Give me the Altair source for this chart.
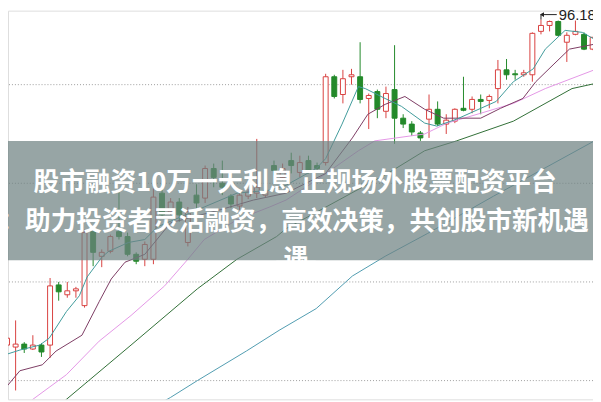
import altair as alt
import pandas as pd

# ---------------- data ----------------
days = list(range(69))
open_ = [63.18, 62.98, 63.28, 62.78, 63.18, 63.18, 69.28, 68.28, 68.68, 67.18,
         74.68, 72.18, 72.68, 74.68, 74.18, 72.38, 71.88, 71.88, 78.58, 76.68,
         77.68, 73.58, 78.38, 78.08, 81.08, 79.58, 78.28, 77.28, 78.28, 78.58,
         78.38, 81.38, 80.18, 81.88, 80.68, 81.88, 81.38, 81.68, 90.38, 88.58,
         90.38, 90.38, 88.18, 88.88, 86.88, 89.08, 86.18, 85.58, 84.68, 86.08,
         87.08, 85.58, 85.88, 87.18, 87.08, 88.08, 87.98, 89.18, 91.08, 90.68,
         90.58, 90.58, 94.98, 95.58, 95.98, 93.88, 94.68, 94.68, 93.18]
high = [64.18, 65.68, 63.48, 64.18, 63.38, 69.98, 69.58, 69.58, 69.08, 74.88,
        75.18, 72.88, 74.38, 78.68, 74.58, 72.58, 73.68, 79.08, 79.58, 78.08,
        78.08, 77.18, 79.48, 81.38, 81.58, 81.88, 78.48, 78.68, 78.98, 84.08,
        79.28, 81.88, 81.58, 82.68, 82.38, 82.38, 81.68, 90.68, 90.58, 91.08,
        91.18, 93.88, 88.68, 89.08, 89.38, 93.58, 86.58, 85.88, 84.88, 88.58,
        87.88, 86.58, 87.18, 90.38, 88.38, 88.58, 88.58, 92.08, 92.18, 91.08,
        91.08, 94.88, 96.18, 96.08, 96.08, 94.88, 96.08, 94.88, 94.38]
low = [62.68, 58.58, 62.38, 62.68, 61.98, 61.88, 67.68, 67.98, 67.98, 66.98,
       71.18, 71.08, 72.48, 73.88, 72.18, 71.38, 71.18, 71.38, 76.08, 76.38,
       75.68, 73.18, 77.08, 77.58, 79.18, 78.38, 77.08, 76.88, 77.98, 78.08,
       78.18, 80.38, 79.88, 80.58, 80.18, 80.58, 80.68, 81.38, 88.18, 87.68,
       89.58, 87.68, 85.08, 86.18, 86.18, 83.58, 85.18, 84.38, 83.88, 84.18,
       85.38, 84.58, 85.68, 86.88, 86.68, 86.58, 87.18, 87.68, 90.08, 90.08,
       90.38, 89.88, 94.68, 94.98, 94.48, 91.88, 94.58, 93.08, 93.08]
close = [63.88, 63.28, 62.78, 63.18, 62.48, 69.18, 68.58, 68.68, 68.88, 74.58,
         72.58, 72.58, 74.18, 74.18, 72.38, 71.68, 73.38, 78.18, 76.38, 77.68,
         76.38, 76.68, 77.58, 81.08, 80.18, 79.18, 77.48, 78.38, 78.68, 79.18,
         78.78, 80.88, 81.08, 81.38, 81.68, 80.88, 81.08, 90.38, 88.38, 90.18,
         90.58, 88.08, 88.48, 87.08, 88.68, 86.18, 85.58, 84.78, 84.18, 87.08,
         85.58, 85.98, 87.08, 86.98, 88.08, 87.88, 88.38, 91.08, 90.58, 90.58,
         90.78, 94.78, 95.58, 95.98, 94.58, 94.58, 94.98, 93.18, 94.38]
rising = [True, True, False, True, False, True, False, True, True, True,
          False, True, True, False, False, False, True, True, False, True,
          False, True, False, True, False, False, False, True, True, True,
          True, False, True, False, True, False, False, True, False, True,
          True, False, True, False, True, False, False, False, False, True,
          False, True, True, False, True, False, True, True, False, False,
          True, True, True, True, False, True, True, False, True]

ma5_day = [-1, 1.5, 3.8, 4.9, 6.9, 8.4, 9.3, 11, 11.8, 14.1, 16, 17.5, 22.9, 26.7,
           30.5, 32.4, 35.9, 37, 38.9, 40.8, 41.6, 43.9, 45.8, 48.5, 49.9, 52.2,
           56.8, 58.8, 61.1, 62.5, 64.8, 66.8, 68.2]
ma5_val = [61.98, 62.68, 63.18, 63.88, 66.58, 68.18, 70.08, 72.08, 72.68, 73.58,
           73.88, 75.18, 77.18, 78.58, 78.88, 79.38, 81.08, 82.08, 85.58, 89.38,
           89.18, 88.18, 87.38, 85.68, 85.38, 86.08, 87.88, 89.88, 91.18, 93.18,
           95.08, 94.88, 94.18]

ma10_day = [-0.8, 1.5, 4.1, 5.7, 8.7, 10.7, 12.1, 13.7, 16, 19, 24.7, 28.6, 32.4,
            37, 40.1, 41.9, 43.9, 46.2, 48.5, 50.7, 55, 57.3, 59.9, 61.4, 63.4,
            65.3, 68.2]
ma10_val = [58.18, 60.58, 61.18, 62.58, 64.18, 67.58, 69.88, 71.58, 72.38, 75.58,
            76.88, 77.88, 78.58, 80.58, 84.18, 86.58, 87.58, 88.38, 87.08, 86.18,
            86.18, 87.18, 88.18, 89.88, 91.58, 93.18, 93.68]

ma20_day = [-1, 3, 6.9, 10.7, 14.4, 18.3, 21, 22.9, 26.7, 30.5, 32.4, 35.9, 40.8,
            42.7, 48.5, 51.1, 55, 58.8, 62.5, 68.2]
ma20_val = [54.5, 57.68, 60.18, 63.58, 66.18, 69.18, 71.88, 73.88, 75.88, 77.18,
            77.88, 79.88, 82.88, 83.88, 84.58, 85.68, 86.68, 87.68, 89.18, 91.08]

ma60_day = [5, 6.9, 14.4, 22.1, 26.7, 31.3, 32.4, 44.2, 48.5, 52.2, 58.8, 65.6, 68.2]
ma60_val = [56.08, 57.68, 63.18, 68.88, 71.88, 74.18, 74.98, 80.58, 82.88, 83.88,
            85.88, 89.18, 89.68]

ma120_day = [16, 19, 22.1, 27.8, 31.6, 35.9, 40.1, 43.9, 48.8, 56.5, 68.2]
ma120_val = [56.38, 57.88, 59.58, 62.58, 64.68, 66.88, 70.18, 72.18, 74.48, 78.28,
             83.88]

grid_levels = [89.58, 79.58, 69.58, 59.58]
title_lines = ["股市融资10万一天利息 正规场外股票配资平台",
               "：助力投资者灵活融资，高效决策，共创股市新机遇",
               "遇"]
peak_day = [62]
peak_price = [96.18]
peak_label = ["96.18"]

# ---------------- styling ----------------
W, H = 593, 394
RED = "#d8403f"
GREEN = "#23892a"
X_DOMAIN = [0.115, 68.04]
Y_DOMAIN = [57.68, 97.08]
xs = alt.Scale(domain=X_DOMAIN, nice=False, zero=False, padding=0)
ys = alt.Scale(domain=Y_DOMAIN, nice=False, zero=False, padding=0)
CJK = "Noto Sans CJK SC"

candles = pd.DataFrame(dict(day=days, open=open_, high=high, low=low, close=close,
                            dir=["up" if r else "down" for r in rising]))

X = alt.X("day:Q", scale=xs, axis=None)
stroke_scale = alt.Scale(domain=["up", "down"], range=[RED, GREEN])
fill_scale = alt.Scale(domain=["up", "down"], range=["#ffffff", GREEN])

grid = alt.Chart(pd.DataFrame(dict(level=grid_levels))).mark_rule(
    color="#9c9c9c", strokeDash=[1, 2], strokeWidth=1
).encode(y=alt.Y("level:Q", scale=ys, axis=None))

wicks = alt.Chart(candles).mark_rule(strokeWidth=1, clip=True).encode(
    x=X,
    y=alt.Y("low:Q", scale=ys, axis=None),
    y2="high:Q",
    stroke=alt.Stroke("dir:N", scale=stroke_scale, legend=None),
)

bodies = alt.Chart(candles).mark_bar(width=5, strokeWidth=1, orient="vertical",
                                     clip=True).encode(
    x=X,
    y=alt.Y("open:Q", scale=ys, axis=None),
    y2="close:Q",
    fill=alt.Fill("dir:N", scale=fill_scale, legend=None),
    stroke=alt.Stroke("dir:N", scale=stroke_scale, legend=None),
)

def ma_layer(d, v, colour):
    return alt.Chart(pd.DataFrame(dict(day=d, value=v))).mark_line(
        strokeWidth=1, clip=True, color=colour
    ).encode(x=X, y=alt.Y("value:Q", scale=ys, axis=None), order="day:Q")

ma_layers = [
    ma_layer(ma120_day, ma120_val, "#4f9bb0"),
    ma_layer(ma60_day, ma60_val, "#2f6e35"),
    ma_layer(ma20_day, ma20_val, "#e496e6"),
    ma_layer(ma10_day, ma10_val, "#7c3b63"),
    ma_layer(ma5_day, ma5_val, "#3f9a9a"),
]

peak = pd.DataFrame(dict(day=peak_day, price=peak_price, label=peak_label))
peak_v = alt.Chart(peak).mark_rule(color="#222222", strokeWidth=1, y2Offset=-5).encode(
    x=X, y=alt.Y("price:Q", scale=ys, axis=None), y2="price:Q")
peak_h = alt.Chart(peak).mark_rule(color="#222222", strokeWidth=1, yOffset=-5,
                                   y2Offset=-5, x2Offset=16).encode(
    x=X, x2="day:Q", y=alt.Y("price:Q", scale=ys, axis=None), y2="price:Q")
peak_arrow = alt.Chart(peak).mark_point(shape="triangle-left", filled=True, size=22,
                                        color="#222222", yOffset=-5, xOffset=1,
                                        opacity=1).encode(
    x=X, y=alt.Y("price:Q", scale=ys, axis=None))
peak_text = alt.Chart(peak).mark_text(align="left", baseline="middle", dx=18, dy=-5,
                                      font="Liberation Sans", fontSize=15,
                                      color="#222222").encode(
    x=X, y=alt.Y("price:Q", scale=ys, axis=None), text="label:N")

banner = alt.Chart(pd.DataFrame(dict(k=[0]))).mark_rect(
    color="#6f8282", opacity=0.72
).encode(x=alt.value(0), x2=alt.value(W), y=alt.value(132), y2=alt.value(253))

def title_line(i, cx, cy):
    return alt.Chart(pd.DataFrame(dict(t=[title_lines[i]]))).mark_text(
        font=CJK, fontSize=26, fontWeight="bold", color="#ffffff",
        align="center", baseline="middle"
    ).encode(text="t:N", x=alt.value(cx), y=alt.value(cy))

t1 = title_line(0, 291, 175)
t2 = title_line(1, 290, 214)
t3 = title_line(2, 292, 253)
mask = alt.Chart(pd.DataFrame(dict(k=[0]))).mark_rect(color="#ffffff").encode(
    x=alt.value(272), x2=alt.value(312), y=alt.value(253.5), y2=alt.value(272))

chart = alt.layer(
    grid, wicks, bodies, *ma_layers, peak_v, peak_h, peak_arrow, peak_text,
    banner, t1, t2, t3, mask
).properties(
    width=W, height=H,
    padding={"left": 0, "top": 0, "right": 0, "bottom": 0},
    autosize=alt.AutoSizeParams(type="none"),
).configure_view(stroke=None).configure(background="#ffffff")

chart.save("out.html", embed_options={"renderer": "svg", "actions": False})
